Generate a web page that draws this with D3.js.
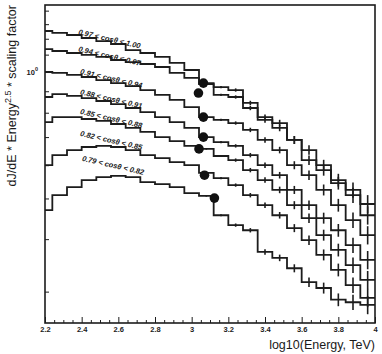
<!DOCTYPE html>
<html>
<head>
<meta charset="utf-8">
<script src="https://cdnjs.cloudflare.com/ajax/libs/d3/7.8.5/d3.min.js"></script>
<style>
  body { margin: 0; background: #fff; }
  text { font-family: "Liberation Sans", Arial, sans-serif; fill: #1a1a1a; }
</style>
</head>
<body>
<div id="chart"></div>
<script>
// bin centres, log10(E / TeV), bin width 0.08
const energy = [2.20, 2.28, 2.36, 2.44, 2.52, 2.60, 2.68, 2.76, 2.84, 2.92, 3.00, 3.08,
                3.16, 3.24, 3.32, 3.40, 3.48, 3.56, 3.64, 3.72, 3.80, 3.88, 3.96];
const binWidth = 0.08;

const cosLabels = ["0.97 < cos\u03b8 < 1.00", "0.94 < cos\u03b8 < 0.97", "0.91 < cos\u03b8 < 0.94",
                   "0.88 < cos\u03b8 < 0.91", "0.85 < cos\u03b8 < 0.88", "0.82 < cos\u03b8 < 0.85",
                   "0.79 < cos\u03b8 < 0.82"];

// dJ/dE * E^2.5 * scaling factor
const flux097 = [1.252, 1.239, 1.225, 1.205, 1.185, 1.166, 1.128, 1.110, 1.086, 1.051, 1.011, 0.941,
                 0.921, 0.906, 0.821, 0.781, 0.736, 0.689, 0.617, 0.584, 0.544, 0.524, 0.485];
const flux094 = [1.134, 1.122, 1.110, 1.098, 1.086, 1.068, 1.056, 1.045, 1.028, 0.995, 0.968, 0.936,
                 0.882, 0.872, 0.844, 0.769, 0.756, 0.689, 0.652, 0.600, 0.553, 0.509, 0.456];
const flux091 = [1.000, 0.995, 0.984, 0.973, 0.957, 0.941, 0.926, 0.906, 0.882, 0.858, 0.825, 0.781,
                 0.769, 0.756, 0.728, 0.689, 0.652, 0.600, 0.568, 0.524, 0.482, 0.444, 0.409];
const flux088 = [0.872, 0.886, 0.877, 0.867, 0.853, 0.839, 0.821, 0.803, 0.781, 0.760, 0.736, 0.700,
                 0.681, 0.667, 0.634, 0.600, 0.568, 0.524, 0.482, 0.449, 0.420, 0.387, 0.357];
const flux085 = [0.760, 0.781, 0.781, 0.773, 0.765, 0.752, 0.736, 0.720, 0.700, 0.685, 0.667, 0.656,
                 0.631, 0.617, 0.584, 0.553, 0.524, 0.482, 0.449, 0.409, 0.377, 0.347, 0.320];
const flux082 = [0.600, 0.634, 0.652, 0.663, 0.667, 0.663, 0.652, 0.634, 0.624, 0.610, 0.600, 0.575,
                 0.559, 0.538, 0.509, 0.482, 0.456, 0.425, 0.398, 0.367, 0.338, 0.311, 0.290];
const flux079 = [0.469, 0.509, 0.532, 0.553, 0.562, 0.566, 0.562, 0.547, 0.541, 0.532, 0.515, 0.507,
                 0.456, 0.432, 0.420, 0.373, 0.361, 0.341, 0.316, 0.306, 0.287, 0.283, 0.279];
const allFlux = [flux097, flux094, flux091, flux088, flux085, flux082, flux079];

// relative statistical error per bin (same for every band)
const relErr = [0, 0, 0, 0, 0, 0, 0, 0, 0, 0, 0, 0.004,
                0.006, 0.009, 0.012, 0.015, 0.018, 0.022, 0.026, 0.030, 0.035, 0.042, 0.050];

// the big dots
const dotE = [3.064, 3.037, 3.064, 3.064, 3.040, 3.070, 3.124];
const dotFlux = [0.941, 0.891, 0.781, 0.700, 0.656, 0.568, 0.501];

// label anchors (log10 E, flux at text start)
const labelE = [2.38, 2.38, 2.39, 2.39, 2.39, 2.39, 2.40];
const labelFlux = [1.23, 1.12, 0.99, 0.885, 0.795, 0.705, 0.615];

const xMajor = [2.2, 2.4, 2.6, 2.8, 3.0, 3.2, 3.4, 3.6, 3.8, 4.0];
const xMinor = [2.25, 2.3, 2.35, 2.45, 2.5, 2.55, 2.65, 2.7, 2.75, 2.85, 2.9, 2.95,
                3.05, 3.1, 3.15, 3.25, 3.3, 3.35, 3.45, 3.5, 3.55, 3.65, 3.7, 3.75,
                3.85, 3.9, 3.95];
const yMinor = [0.3, 0.4, 0.5, 0.6, 0.7, 0.8, 0.9, 1.1, 1.2, 1.3, 1.4];

const W = 382, H = 354;
const mLeft = 45, mRight = 375, mTop = 5, mBottom = 323;
const ink = "#1c1c1c";

const svg = d3.select("#chart").append("svg")
  .attr("width", W).attr("height", H);

const x = d3.scaleLinear().domain([2.2, 4.0]).range([mLeft, mRight]);
const y = d3.scaleLog().domain([0.2526, 1.444]).range([mBottom, mTop]);

// X axis ticks (inward)
const xg = svg.append("g").attr("transform", "translate(0," + mBottom + ")");
xg.call(d3.axisBottom(x).tickValues(xMajor).tickSize(-6).tickPadding(4)
  .tickFormat(d3.format("~g")));
xg.append("g").call(d3.axisBottom(x).tickValues(xMinor).tickSize(-3).tickFormat(""));
xg.selectAll(".domain").remove();
xg.selectAll("line").attr("stroke", ink).attr("stroke-width", 1);
xg.selectAll("text")
  .style("font-size", "7.5px").style("font-weight", "bold").attr("fill", ink);

// Y axis ticks (inward)
const yg = svg.append("g").attr("transform", "translate(" + mLeft + ",0)");
yg.call(d3.axisLeft(y).tickValues(yMinor).tickSize(-4).tickFormat(""));
yg.append("g").call(d3.axisLeft(y).tickValues([1]).tickSize(-8).tickFormat(""));
yg.selectAll(".domain").remove();
yg.selectAll("line").attr("stroke", ink).attr("stroke-width", 1);

const lab = svg.append("text").attr("x", mLeft - 7).attr("y", y(1) + 3)
  .attr("text-anchor", "end").style("font-size", "7.5px").style("font-weight", "bold");
lab.append("tspan").text("10");
lab.append("tspan").attr("dy", -4).style("font-size", "5.5px").text("0");

// frame
svg.append("rect")
  .attr("x", mLeft).attr("y", mTop)
  .attr("width", mRight - mLeft).attr("height", mBottom - mTop)
  .attr("fill", "none").attr("stroke", ink).attr("stroke-width", 1.6);

// histograms
const plot = svg.append("g");
allFlux.forEach(function (vals) {
  let d = "";
  vals.forEach(function (v, i) {
    const x0 = x(Math.max(2.2, energy[i] - binWidth / 2));
    const x1 = x(Math.min(4.0, energy[i] + binWidth / 2));
    d += (i === 0 ? "M" : "L") + x0 + "," + y(v) + "L" + x1 + "," + y(v);
  });
  plot.append("path").attr("d", d)
    .attr("fill", "none").attr("stroke", ink).attr("stroke-width", 1.8);

  plot.append("g").selectAll("line")
    .data(vals.map(function (v, i) { return [energy[i], v, relErr[i]]; })
      .filter(function (d) { return d[2] > 0; }))
    .enter().append("line")
    .attr("x1", function (d) { return x(d[0]); })
    .attr("x2", function (d) { return x(d[0]); })
    .attr("y1", function (d) { return y(d[1] * (1 + d[2])); })
    .attr("y2", function (d) { return y(d[1] * (1 - d[2])); })
    .attr("stroke", ink).attr("stroke-width", 1.6);
});

// dots
plot.append("g").selectAll("circle")
  .data(dotE).enter()
  .append("circle")
  .attr("cx", function (d) { return x(d); })
  .attr("cy", function (d, i) { return y(dotFlux[i]); })
  .attr("r", 4.8)
  .attr("fill", "#111");

// band labels
svg.append("g").selectAll("text")
  .data(cosLabels).enter()
  .append("text")
  .attr("transform", function (d, i) {
    return "translate(" + x(labelE[i]) + "," + y(labelFlux[i]) + ") rotate(13)";
  })
  .style("font-size", "7.5px").style("font-weight", "bold").style("font-style", "italic")
  .text(function (d) { return d; });

// axis titles
svg.append("text")
  .attr("x", mRight).attr("y", 349)
  .attr("text-anchor", "end")
  .style("font-size", "12.5px")
  .text("log10(Energy, TeV)");

const yt = svg.append("text")
  .attr("transform", "translate(16," + mTop + ") rotate(-90)")
  .attr("text-anchor", "end")
  .style("font-size", "12.5px");
yt.append("tspan").text("dJ/dE * Energy");
yt.append("tspan").attr("dy", -5).style("font-size", "9px").text("2.5");
yt.append("tspan").attr("dy", 5).text(" * scaling factor");
</script>
</body>
</html>
